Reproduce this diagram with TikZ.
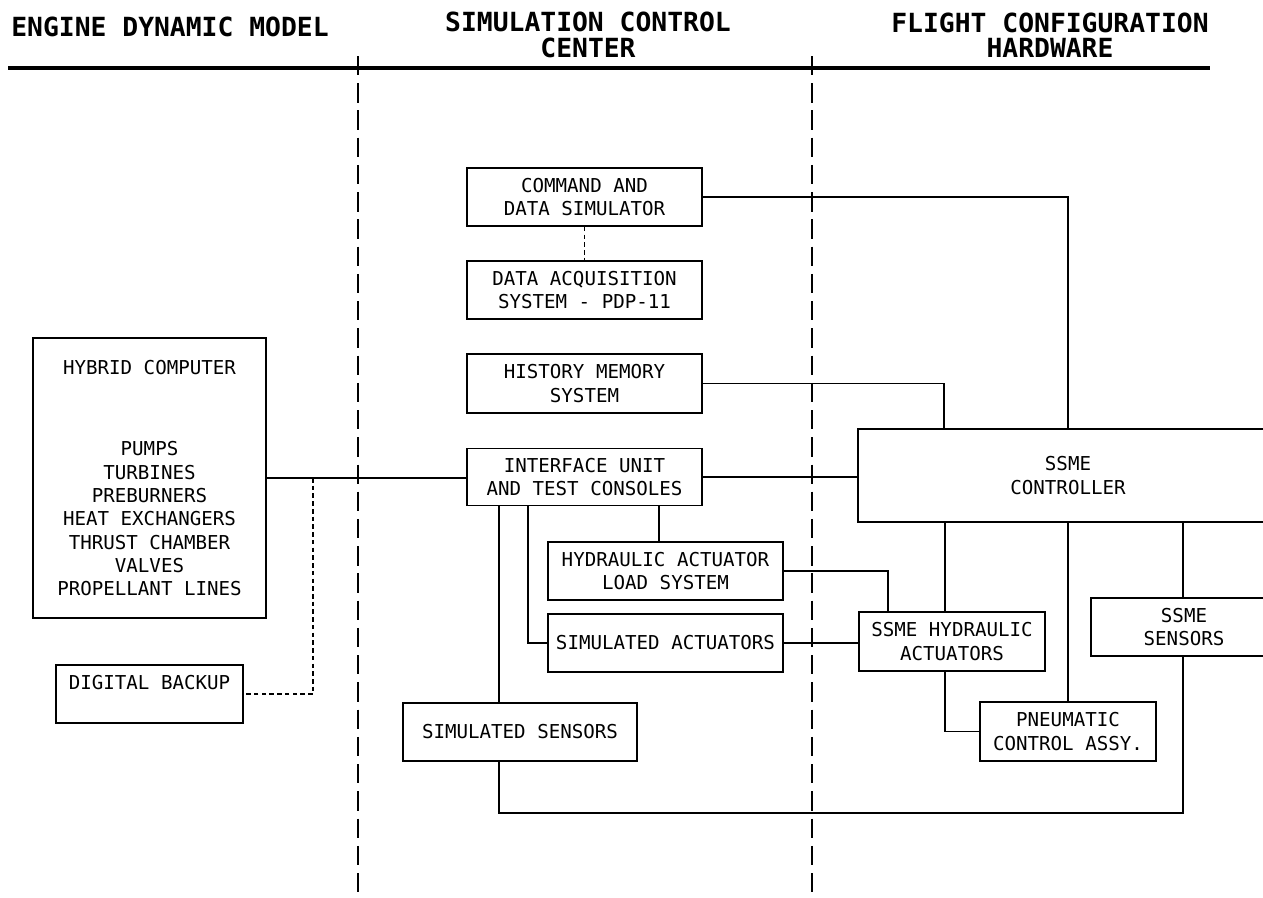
\documentclass[tikz,border=0pt]{standalone}
\usepackage{fontspec}
\newfontfamily\plotfont{DejaVu Sans Mono}
\tikzset{
  boxfont/.style={font=\plotfont\fontsize{10.9}{13.3}\selectfont},
  headfont/.style={font=\plotfont\bfseries\fontsize{15}{14.4}\selectfont},
  blk/.style={draw, line width=0.9pt, inner sep=0pt, align=center, boxfont},
  wire/.style={line width=0.9pt},
  dotwire/.style={line width=0.9pt, dash pattern=on 2.6pt off 1.8pt},
  divider/.style={line width=0.9pt, dash pattern=on 11pt off 4.5pt},
  rule/.style={line width=1.8pt}
}
\begin{document}
\begin{tikzpicture}[x=0.02cm, y=-0.02cm]
\clip (0,0) rectangle (1263,897);
\fill[white] (0,0) rectangle (1263,897);

% headers
\node[headfont] (h1) at (170,27) {ENGINE DYNAMIC MODEL};
\node[headfont, align=center] (h2) at (588,35) {SIMULATION CONTROL\\CENTER};
\node[headfont, align=center] (h3) at (1050,35) {FLIGHT CONFIGURATION\\HARDWARE};

\coordinate (rl) at (8,68);
\coordinate (rr) at (1210,68);
\draw[rule] (rl) -- (rr);

\coordinate (d1t) at (358,56);
\coordinate (d1b) at (358,897);
\coordinate (d2t) at (812,56);
\coordinate (d2b) at (812,897);
\draw[divider] (d1t) -- (d1b);
\draw[divider] (d2t) -- (d2b);

% engine dynamic model
\node[blk, minimum width=4.66cm, minimum height=5.6cm] (hybrid) at (149.5,478)
  {HYBRID COMPUTER\\[33.2pt]PUMPS\\TURBINES\\PREBURNERS\\HEAT EXCHANGERS\\THRUST CHAMBER\\VALVES\\PROPELLANT LINES};
\node[blk, minimum width=3.74cm, minimum height=1.16cm] (backup) at (149.5,694)
  {DIGITAL BACKUP\\\mbox{}};

% simulation control center
\node[blk, minimum width=4.7cm, minimum height=1.16cm] (cmd) at (584.5,197) {COMMAND AND\\DATA SIMULATOR};
\node[blk, minimum width=4.7cm, minimum height=1.16cm] (daq) at (584.5,290) {DATA ACQUISITION\\SYSTEM - PDP-11};
\node[blk, minimum width=4.7cm, minimum height=1.18cm] (hist) at (584.5,383.5) {HISTORY MEMORY\\SYSTEM};
\node[blk, minimum width=4.7cm, minimum height=1.14cm] (iface) at (584.5,477) {INTERFACE UNIT\\AND TEST CONSOLES};
\node[blk, minimum width=4.7cm, minimum height=1.16cm] (hload) at (665.5,571) {HYDRAULIC ACTUATOR\\LOAD SYSTEM};
\node[blk, minimum width=4.7cm, minimum height=1.16cm] (simact) at (665.5,643) {SIMULATED ACTUATORS};
\node[blk, minimum width=4.68cm, minimum height=1.16cm] (simsens) at (520,732) {SIMULATED SENSORS};

% flight configuration hardware
\node[blk, minimum width=8.4cm, minimum height=1.86cm] (ctrl) at (1068,475.5) {SSME\\CONTROLLER};
\node[blk, minimum width=3.72cm, minimum height=1.18cm] (hact) at (952,641.5) {SSME HYDRAULIC\\ACTUATORS};
\node[blk, minimum width=3.52cm, minimum height=1.18cm] (pneu) at (1068,731.5) {PNEUMATIC\\CONTROL ASSY.};
\node[blk, minimum width=3.72cm, minimum height=1.16cm] (sens) at (1184,627) {SSME\\SENSORS};

% helper coordinates
\coordinate (xA) at (499,0);
\coordinate (xB) at (528,0);
\coordinate (xC) at (659,0);
\coordinate (xD) at (888,0);
\coordinate (xE) at (945,0);
\coordinate (xF) at (1183,0);
\coordinate (xH) at (944,0);
\coordinate (yB) at (0,813);
\coordinate (j1) at (313,478);

% connectors
\draw[wire] (hybrid.east) -- (hybrid.east -| iface.west);
\draw[dotwire] (j1) |- (backup.east);
\draw[dotwire] (cmd.south) -- (daq.north);
\draw[wire] (cmd.east) -| (ctrl.north);
\draw[wire] (hist.east) -| (xH |- ctrl.north);
\draw[wire] (iface.east) -- (iface.east -| ctrl.west);
\draw[wire] (xA |- iface.south) -- (xA |- simsens.north);
\draw[wire] (xB |- iface.south) |- (simact.west);
\draw[wire] (xC |- iface.south) -- (xC |- hload.north);
\draw[wire] (hload.east) -| (xD |- hact.north);
\draw[wire] (simact.east) -- (simact.east -| hact.west);
\draw[wire] (xE |- ctrl.south) -- (xE |- hact.north);
\draw[wire] (ctrl.south) -- (pneu.north);
\draw[wire] (xF |- ctrl.south) -- (xF |- sens.north);
\draw[wire] (xE |- hact.south) |- (pneu.west);
\draw[wire] (xA |- simsens.south) |- (xF |- yB) -- (xF |- sens.south);
\end{tikzpicture}
\end{document}
